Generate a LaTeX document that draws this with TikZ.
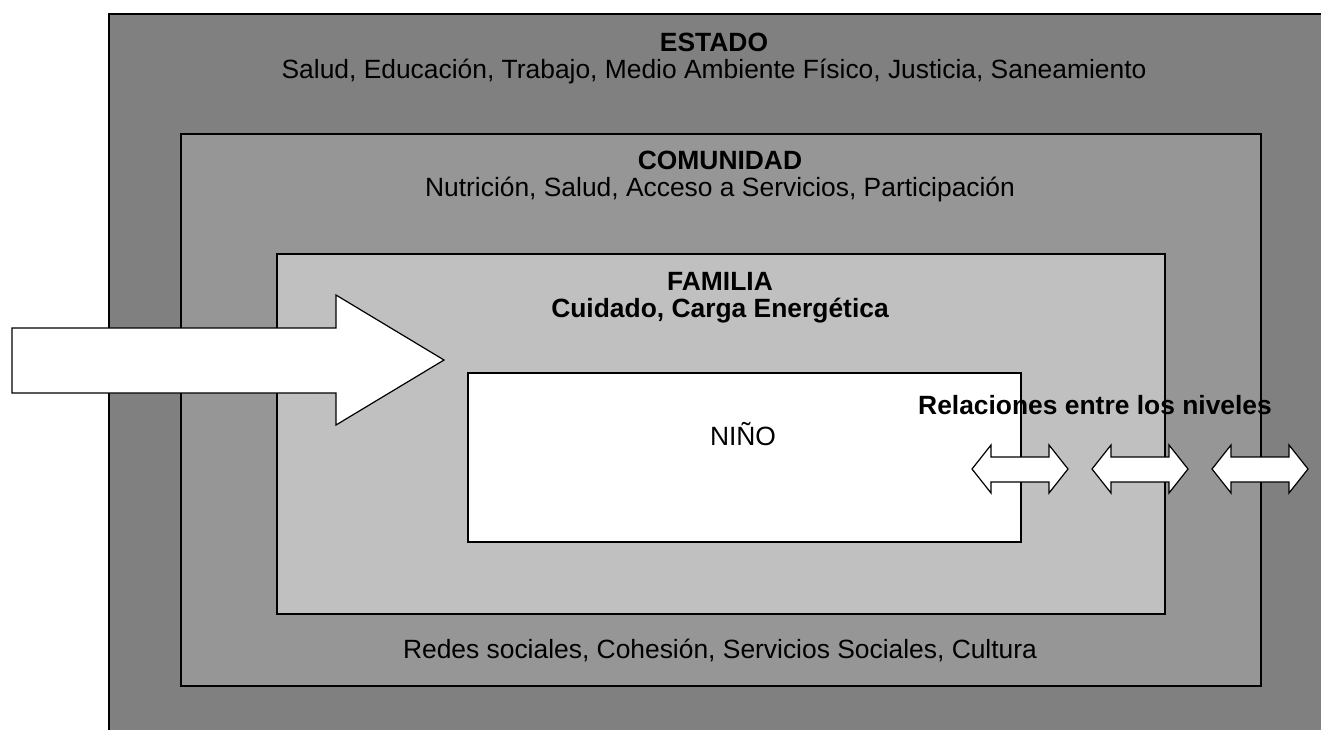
\documentclass[tikz,border=0pt]{standalone}
\usepackage{fontspec}
\setmainfont{Liberation Sans}
\begin{document}
\begin{tikzpicture}[x=1pt,y=-1pt,
  box/.style={draw=black,line width=1.5pt,rectangle,inner sep=0pt,anchor=north west},
  arr/.style={draw=black,line width=1.2pt,fill=white,line join=miter},
  lbl/.style={font=\fontsize{26.4}{31}\selectfont,inner sep=0pt},
  blbl/.style={font=\fontsize{26.4}{31}\selectfont\bfseries,inner sep=0pt}]
\useasboundingbox (0,0) rectangle (1321,729);
\clip (0,0) rectangle (1321,729);
\definecolor{gEstado}{HTML}{808080}
\definecolor{gCom}{HTML}{969696}
\definecolor{gFam}{HTML}{C0C0C0}
\node[box,fill=gEstado,minimum width=1240pt,minimum height=740pt] (estado) at (108,13) {};
\node[box,fill=gCom,minimum width=1080pt,minimum height=552pt] (com) at (180,133) {};
\node[box,fill=gFam,minimum width=888pt,minimum height=360pt] (fam) at (276,253) {};
\node[box,fill=white,minimum width=553pt,minimum height=169pt] (nino) at (467,372) {};
\node[blbl] (t1) at (714,42) {ESTADO};
\node[lbl] (t2) at (714,72) {Salud, Educación, Trabajo, Medio Ambiente Físico, Justicia, Saneamiento};
\node[blbl] (t3) at (720,160) {COMUNIDAD};
\node[lbl] (t4) at (720,190) {Nutrición, Salud, Acceso a Servicios, Participación};
\node[blbl] (t5) at (720,281) {FAMILIA};
\node[blbl] (t6) at (720,311) {Cuidado, Carga Energética};
\node[lbl] (t7) at (743,434) {NIÑO};
\node[lbl] (t8) at (720,650) {Redes sociales, Cohesión, Servicios Sociales, Cultura};
% big arrow
\draw[arr] (12,328) -- (336,328) -- (336,295) -- (444,360) -- (336,425) -- (336,393) -- (12,393) -- cycle;
% double arrows
\foreach \a in {972,1092,1212}{
  \draw[arr] (\a,469) -- (\a+19,445) -- (\a+19,457) -- (\a+77,457) -- (\a+77,445) -- (\a+96,469)
    -- (\a+77,493) -- (\a+77,482) -- (\a+19,482) -- (\a+19,493) -- cycle;
}
\node[blbl] (t9) at (1095,405) {Relaciones entre los niveles};
\end{tikzpicture}
\end{document}
